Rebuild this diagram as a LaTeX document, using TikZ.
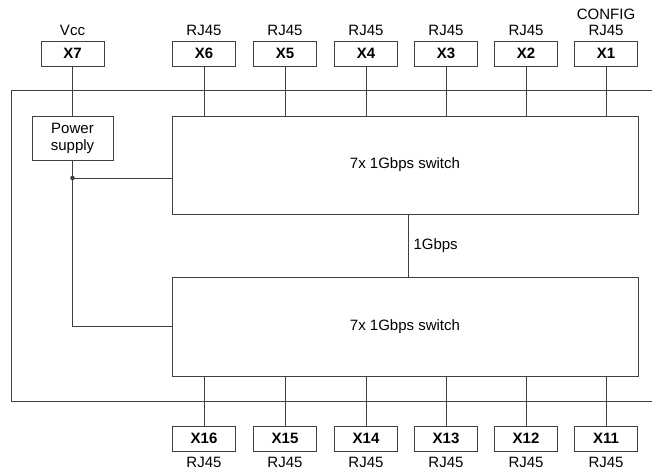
\documentclass[tikz,border=0pt]{standalone}
\usepackage{fontspec}
\setmainfont{Liberation Sans}
\usetikzlibrary{positioning}
\definecolor{wiregray}{RGB}{64,64,64}
\tikzset{
  wire/.style={draw=wiregray,line width=1pt},
  conn/.style={draw=wiregray,line width=1pt,minimum width=63pt,minimum height=25pt,
    inner sep=0pt,font=\fontsize{15}{17}\selectfont\bfseries},
  block/.style={draw=wiregray,line width=1pt,inner sep=0pt,align=center,
    font=\fontsize{15}{17}\selectfont},
  lab/.style={inner sep=1pt,align=center,font=\fontsize{15}{16}\selectfont}
}
\begin{document}
\begin{tikzpicture}[x=1pt,y=-1pt]
  \useasboundingbox (0,0) rectangle (652,474);
  % housing
  \draw[wire] (652,90) -| (11.5,401) -- (652,401);
  % blocks
  \node[block,minimum width=81pt,minimum height=44pt] (psu) at (72.5,138) {Power\\supply};
  \node[block,minimum width=466pt,minimum height=98pt] (swa) at (405,165) {7x 1Gbps switch};
  \node[block,minimum width=466pt,minimum height=99pt] (swb) at (405,326.5) {7x 1Gbps switch};
  % top connectors
  \node[conn] (x7) at (72.5,53.5) {X7};
  \node[lab,above=4pt of x7] (l7) {Vcc};
  \draw[wire] (x7) -- (psu);
  \foreach \n/\x in {6/204,5/285,4/366,3/446,2/526,1/606}{
    \node[conn] (x\n) at (\x,53.5) {X\n};
    \draw[wire] (x\n) -- (x\n |- swa.north);
  }
  \foreach \n in {6,5,4,3,2}
    \node[lab,above=4pt of x\n] (l\n) {RJ45};
  \node[lab,above=4pt of x1] (l1) {CONFIG\\RJ45};
  % bottom connectors
  \foreach \n/\x in {16/204,15/285,14/366,13/446,12/526,11/606}{
    \node[conn] (x\n) at (\x,438.5) {X\n};
    \node[lab,below=4pt of x\n] (l\n) {RJ45};
    \draw[wire] (x\n) -- (x\n |- swb.south);
  }
  % uplink
  \draw[wire] (swa.south -| 408,0) coordinate (up) -- (up |- swb.north)
    node[lab,midway,right=4pt] (gb) {1Gbps};
  % power distribution
  \coordinate (jn) at (psu.south |- 0,178);
  \draw[wire] (psu) -- (jn) -- (jn -| swa.west);
  \draw[wire] (jn) |- (swb.west |- 0,326);
  \fill[wiregray] (jn) circle (2.3pt);
\end{tikzpicture}
\end{document}
